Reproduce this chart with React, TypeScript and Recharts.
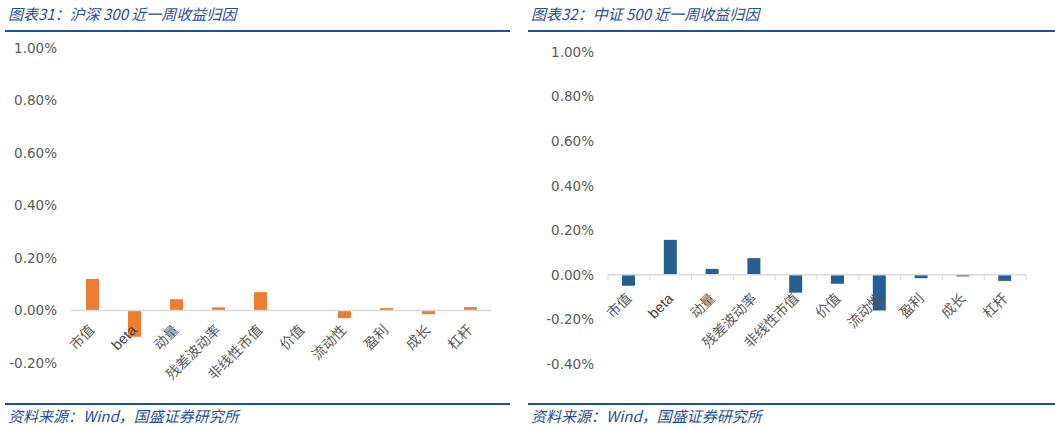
import React from 'react'
import { BarChart, Bar, XAxis, YAxis, ReferenceLine } from 'recharts'

const categories = ['市值', 'beta', '动量', '残差波动率', '非线性市值', '价值', '流动性', '盈利', '成长', '杠杆']
// 近一周收益归因 (%)
const hs300Values = [0.12, -0.1, 0.043, 0.012, 0.07, 0, -0.029, 0.009, -0.014, 0.013]
const zz500Values = [-0.049, 0.157, 0.027, 0.075, -0.08, -0.04, -0.16, -0.015, -0.007, -0.027]
const hs300Ticks = [-0.2, 0, 0.2, 0.4, 0.6, 0.8, 1.0]
const zz500Ticks = [-0.4, -0.2, 0, 0.2, 0.4, 0.6, 0.8, 1.0]

const BLUE = '#1F4E9A'
const CJK = '"Noto Sans CJK SC", "DejaVu Sans", sans-serif'

const hs300Data = categories.map((name, i) => ({ name, value: hs300Values[i] }))
const zz500Data = categories.map((name, i) => ({ name, value: zz500Values[i] }))

const fmtPct = (v: number) => `${v.toFixed(2)}%`

// category labels sit under the zero line, not under the plot bottom
function makeTick(zeroShift: number, bandW: number, drawTicks: boolean, dx: number, dy: number) {
  return (props: any) => {
    const { x, y, payload, index } = props
    const zy = y - zeroShift
    const isLatin = /^[a-z]+$/i.test(payload.value)
    return (
      <g>
        {drawTicks && (
          <line x1={x - bandW / 2} x2={x - bandW / 2} y1={zy} y2={zy + 5} stroke="#D9D9D9" strokeWidth={1} />
        )}
        {drawTicks && index === categories.length - 1 && (
          <line x1={x + bandW / 2} x2={x + bandW / 2} y1={zy} y2={zy + 5} stroke="#D9D9D9" strokeWidth={1} />
        )}
        <text
          x={x + dx}
          y={zy + dy}
          dy="0.35em"
          textAnchor="end"
          transform={`rotate(-45, ${x + dx}, ${zy + dy})`}
          fill={isLatin ? '#404040' : '#595959'}
          fontSize={isLatin ? 14.5 : 14}
          fontFamily={isLatin ? '"Liberation Sans", Arial, sans-serif' : CJK}
        >
          {payload.value}
        </text>
      </g>
    )
  }
}

interface PanelProps {
  left: number
  width: number
  title: string
  data: { name: string; value: number }[]
  ticks: number[]
  color: string
  yAxisWidth: number
  marginTop: number
  marginRight: number
  plotBottom: number
  drawTicks: boolean
  lineLeft: number
  lineRight: number
  labelDy: number
}

function Panel(p: PanelProps) {
  const height = 429
  const xAxisH = 30
  const marginBottom = height - p.plotBottom - xAxisH
  const plotH = p.plotBottom - p.marginTop
  const min = p.ticks[0]
  const max = p.ticks[p.ticks.length - 1]
  const zeroShift = (plotH * (0 - min)) / (max - min)
  const plotW = p.width - p.yAxisWidth - p.marginRight
  const bandW = plotW / categories.length

  return (
    <div style={{ position: 'absolute', left: p.left, top: 0, width: p.width, height }}>
      <div
        style={{
          position: 'absolute',
          left: p.lineLeft - p.left + 3,
          top: 3,
          fontFamily: CJK,
          fontStyle: 'italic',
          fontSize: 15,
          color: BLUE,
          whiteSpace: 'nowrap',
          lineHeight: '22px'
        }}
      >
        {p.title}
      </div>
      <div style={{ position: 'absolute', left: p.lineLeft - p.left, width: p.lineRight - p.lineLeft, top: 30, height: 2, background: BLUE }} />
      <BarChart
        width={p.width}
        height={height}
        data={p.data}
        margin={{ top: p.marginTop, right: p.marginRight, bottom: marginBottom, left: 0 }}
        style={{ position: 'absolute', left: 0, top: 0 }}
      >
        <XAxis
          dataKey="name"
          height={xAxisH}
          axisLine={false}
          tickLine={false}
          tickSize={0}
          tickMargin={0}
          interval={0}
          tick={makeTick(zeroShift, bandW, p.drawTicks, 0, p.labelDy)}
        />
        <YAxis
          width={p.yAxisWidth}
          domain={[min, max]}
          ticks={p.ticks}
          tickFormatter={fmtPct}
          axisLine={false}
          tickLine={false}
          tickSize={0}
          tickMargin={14}
          tick={{ fill: '#595959', fontSize: 13.5, fontFamily: '"DejaVu Sans", sans-serif' }}
        />
        <ReferenceLine y={0} stroke="#D9D9D9" strokeWidth={1.5} />
        <Bar dataKey="value" fill={p.color} barSize={13} isAnimationActive={false} />
      </BarChart>
      <div style={{ position: 'absolute', left: p.lineLeft - p.left, width: p.lineRight - p.lineLeft, top: 403, height: 2, background: BLUE }} />
      <div
        style={{
          position: 'absolute',
          left: p.lineLeft - p.left + 3,
          top: 405,
          fontFamily: CJK,
          fontStyle: 'italic',
          fontSize: 15,
          color: BLUE,
          whiteSpace: 'nowrap',
          lineHeight: '22px'
        }}
      >
        资料来源：Wind，国盛证券研究所
      </div>
    </div>
  )
}

export default function App() {
  return (
    <div style={{ position: 'absolute', left: 0, top: 0, width: 1055, height: 429, background: '#fff', overflow: 'hidden' }}>
      <Panel
        left={0}
        width={510}
        title="图表31：沪深 300 近一周收益归因"
        data={hs300Data}
        ticks={hs300Ticks}
        color="#ED7D31"
        yAxisWidth={71}
        marginTop={48}
        marginRight={19}
        plotBottom={363}
        drawTicks={false}
        lineLeft={5}
        lineRight={510}
        labelDy={17}
      />
      <Panel
        left={528}
        width={527}
        title="图表32：中证 500 近一周收益归因"
        data={zz500Data}
        ticks={zz500Ticks}
        color="#255E91"
        yAxisWidth={80}
        marginTop={52}
        marginRight={29}
        plotBottom={364}
        drawTicks={true}
        lineLeft={528}
        lineRight={1055}
        labelDy={21}
      />
    </div>
  )
}
